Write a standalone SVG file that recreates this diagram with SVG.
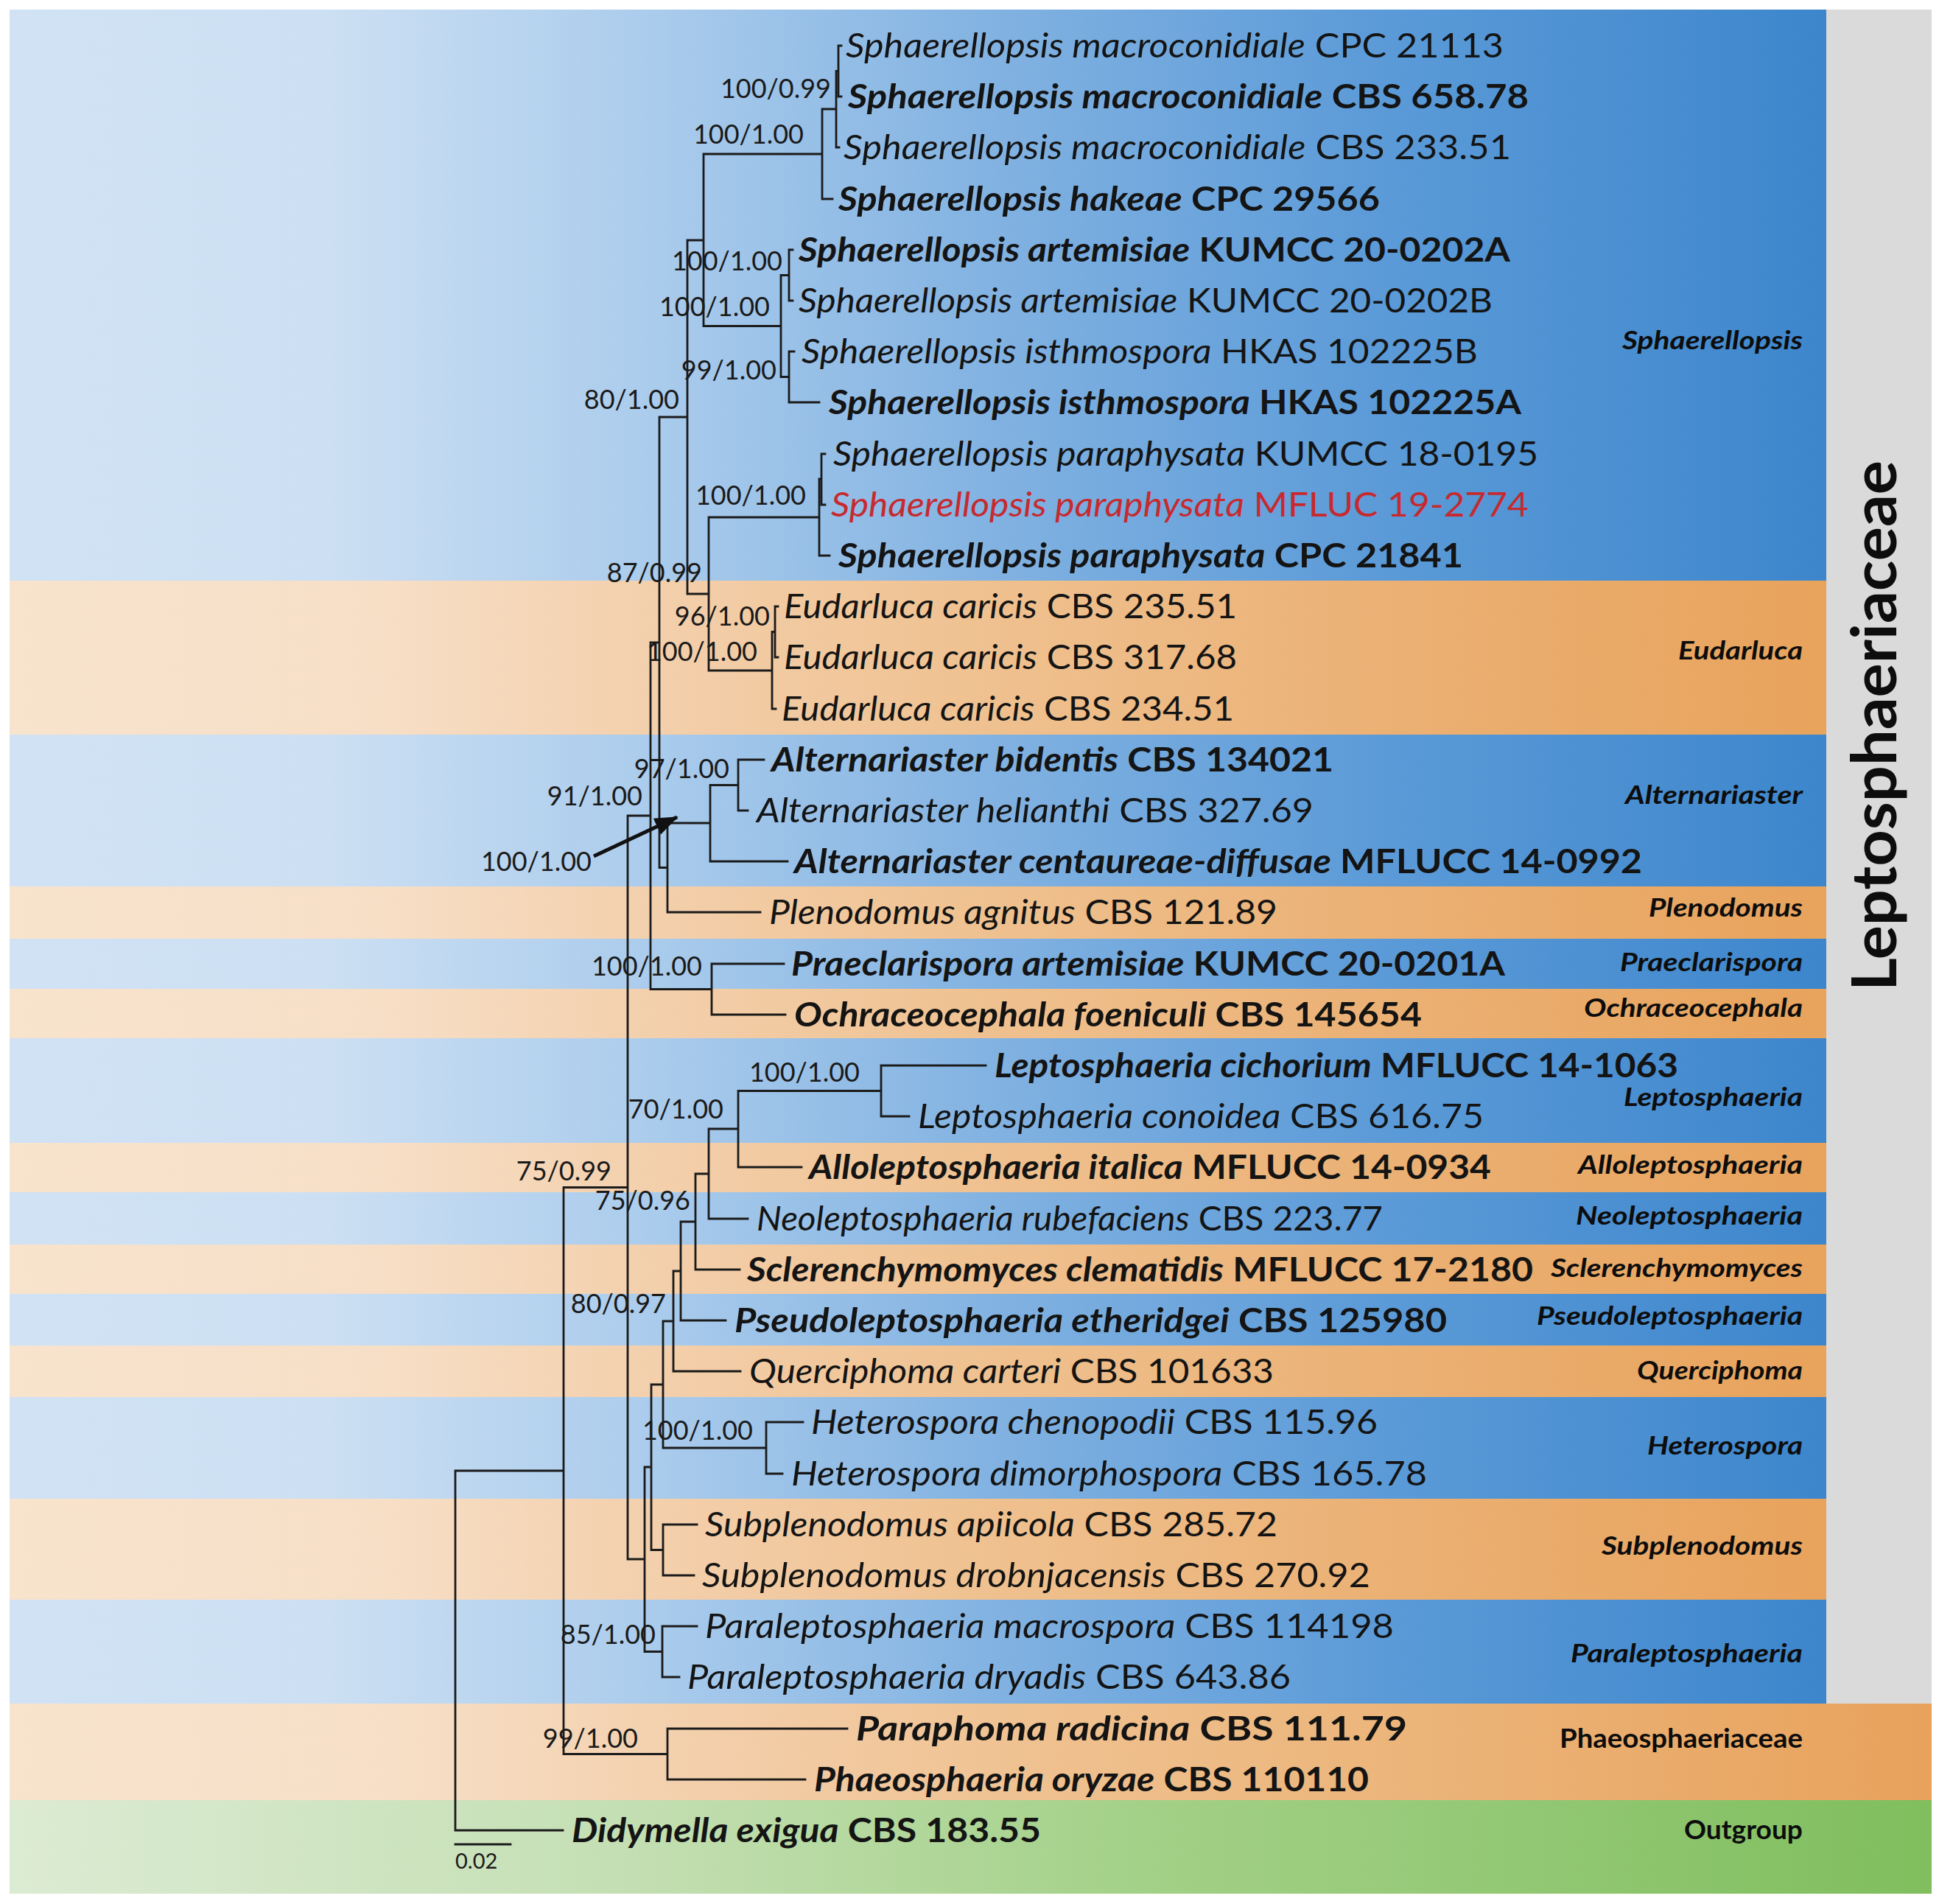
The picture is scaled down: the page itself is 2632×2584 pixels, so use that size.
<svg xmlns="http://www.w3.org/2000/svg" width="2632" height="2584" viewBox="0 0 2632 2584">
<defs>
<linearGradient id="gb" gradientUnits="userSpaceOnUse" x1="13" y1="0" x2="2479" y2="0">
<stop offset="0" stop-color="#d0e2f4"/><stop offset="0.17" stop-color="#cde0f3"/><stop offset="0.36" stop-color="#a9cbec"/><stop offset="0.55" stop-color="#80b1e1"/><stop offset="0.75" stop-color="#5c9bd8"/><stop offset="1" stop-color="#3d86cc"/>
</linearGradient>
<linearGradient id="go" gradientUnits="userSpaceOnUse" x1="13" y1="0" x2="2479" y2="0">
<stop offset="0" stop-color="#f8e3cd"/><stop offset="0.2" stop-color="#f7dfc7"/><stop offset="0.36" stop-color="#f3cfab"/><stop offset="0.55" stop-color="#efc08e"/><stop offset="0.75" stop-color="#ebb175"/><stop offset="1" stop-color="#e8a35c"/>
</linearGradient>
<linearGradient id="go2" gradientUnits="userSpaceOnUse" x1="13" y1="0" x2="2622" y2="0">
<stop offset="0" stop-color="#f8e3cd"/><stop offset="0.2" stop-color="#f7dfc7"/><stop offset="0.36" stop-color="#f3cfab"/><stop offset="0.55" stop-color="#efc08e"/><stop offset="0.75" stop-color="#ebb377"/><stop offset="1" stop-color="#e8a25c"/>
</linearGradient>
<linearGradient id="gg" gradientUnits="userSpaceOnUse" x1="13" y1="0" x2="2622" y2="0">
<stop offset="0" stop-color="#dcebd3"/><stop offset="0.3" stop-color="#c6e0b6"/><stop offset="0.6" stop-color="#a2d086"/><stop offset="1" stop-color="#80be5e"/>
</linearGradient>
<marker id="ah" markerUnits="userSpaceOnUse" markerWidth="34" markerHeight="28" refX="30" refY="14" orient="auto">
<path d="M0,2 L32,14 L0,26 Z" fill="#111"/>
</marker>
</defs>
<style>
.tx{font-family:Lato,"Open Sans","Liberation Sans",sans-serif;font-size:46px;fill:#141414}
.i{font-style:italic}
.b{font-weight:700}
.red{fill:#c62a2f}
.sp{font-family:Lato,"Open Sans","Liberation Sans",sans-serif;font-size:36px;fill:#1a1a1a;text-anchor:end}
.gn{font-family:Lato,"Open Sans","Liberation Sans",sans-serif;font-size:35px;font-weight:700;font-style:italic;fill:#0d0d0d;text-anchor:end}
.fam{font-family:Lato,"Open Sans","Liberation Sans",sans-serif;font-size:36px;font-weight:700;fill:#0d0d0d;text-anchor:end}
.br{fill:none;stroke:#1b1b1b;stroke-width:2.8;stroke-linecap:square}
</style>
<rect x="0" y="0" width="2632" height="2584" fill="#ffffff"/>
<g id="bands">
<rect x="13" y="13" width="2466" height="775" fill="url(#gb)"/>
<rect x="13" y="788" width="2466" height="209" fill="url(#go)"/>
<rect x="13" y="997" width="2466" height="206" fill="url(#gb)"/>
<rect x="13" y="1203" width="2466" height="71" fill="url(#go)"/>
<rect x="13" y="1274" width="2466" height="68" fill="url(#gb)"/>
<rect x="13" y="1342" width="2466" height="67" fill="url(#go)"/>
<rect x="13" y="1409" width="2466" height="142" fill="url(#gb)"/>
<rect x="13" y="1551" width="2466" height="67" fill="url(#go)"/>
<rect x="13" y="1618" width="2466" height="71" fill="url(#gb)"/>
<rect x="13" y="1689" width="2466" height="67" fill="url(#go)"/>
<rect x="13" y="1756" width="2466" height="70" fill="url(#gb)"/>
<rect x="13" y="1826" width="2466" height="70" fill="url(#go)"/>
<rect x="13" y="1896" width="2466" height="138" fill="url(#gb)"/>
<rect x="13" y="2034" width="2466" height="137" fill="url(#go)"/>
<rect x="13" y="2171" width="2466" height="141" fill="url(#gb)"/>
<rect x="2479" y="13" width="143" height="2299" fill="#dadada"/>
<rect x="13" y="2312" width="2609" height="131" fill="url(#go2)"/>
<rect x="13" y="2443" width="2609" height="127" fill="url(#gg)"/>
</g>
<g id="connectors">
<path class="br" d="M618 1996V2484M618 1996H765M618 2484H764
M765 1611.5V2380.5M765 1611.5H852M765 2380.5H906
M906 2346V2415M906 2346H1150M906 2415H1093
M852 1107V2116M852 1107H883M852 2116H875
M875 1991V2241.5M875 1991H884M875 2241.5H899
M899 2207V2276M899 2207H946M899 2276H922
M884 1879V2103.5M884 1879H900M884 2103.5H900
M900 2069V2138M900 2069H946M900 2138H942
M900 1793V1965M900 1793H914M900 1965H1040
M1040 1930V2000M1040 1930H1090M1040 2000H1062
M914 1725V1861M914 1725H924M914 1861H1005
M924 1658V1792M924 1658H944M924 1792H985
M944 1593V1723M944 1593H962M944 1723H1004
M962 1532V1654M962 1532H1002M962 1654H1015
M1002 1480.5V1584M1002 1480.5H1196M1002 1584H1088
M1196 1446V1515M1196 1446H1338M1196 1515H1234
M883 872V1342.5M883 872H895M883 1342.5H966
M966 1308V1377M966 1308H1064M966 1377H1066
M895 566V1177.5M895 566H933M895 1177.5H906
M906 1117V1238M906 1117H964M906 1238H1032
M964 1065.5V1169M964 1065.5H1002M964 1169H1069
M1002 1031V1100M1002 1031H1037M1002 1100H1015
M933 326V806M933 326H955M933 806H962
M962 702V910M962 702H1112M962 910H1048
M1048 857.5V962M1048 857.5H1052M1048 962H1053
M1052 823V892M1052 823H1056M1052 892H1056
M1112 650V754M1112 650H1115M1112 754H1126
M1115 616V685M1115 616H1120M1115 685H1120
M955 209V442.5M955 209H1116M955 442.5H1060
M1116 148V270M1116 148H1135M1116 270H1130
M1135 96.5V200M1135 96.5H1138M1135 200H1139
M1138 62V131M1138 62H1142M1138 131H1142
M1060 373.5V511.5M1060 373.5H1071M1060 511.5H1071
M1071 339V408M1071 339H1076M1071 408H1076
M1071 477V546M1071 477H1078M1071 546H1112"/>
<line x1="806" y1="1162" x2="919" y2="1109" stroke="#111" stroke-width="5" marker-end="url(#ah)"/>
<path class="br" d="M618 2503H693"/>
<text x="618" y="2536" font-family="Lato,'Open Sans',sans-serif" font-size="29" fill="#1a1a1a">0.02</text>
</g>
<g id="supports">
<text class="sp" x="1128" y="133">100/0.99</text>
<text class="sp" x="1091" y="195">100/1.00</text>
<text class="sp" x="1062" y="367">100/1.00</text>
<text class="sp" x="1045" y="429">100/1.00</text>
<text class="sp" x="1054" y="515">99/1.00</text>
<text class="sp" x="922" y="555">80/1.00</text>
<text class="sp" x="1094" y="685">100/1.00</text>
<text class="sp" x="953" y="790">87/0.99</text>
<text class="sp" x="1045" y="849">96/1.00</text>
<text class="sp" x="1028" y="897">100/1.00</text>
<text class="sp" x="990" y="1056">97/1.00</text>
<text class="sp" x="872" y="1093">91/1.00</text>
<text class="sp" x="803" y="1182">100/1.00</text>
<text class="sp" x="953" y="1324">100/1.00</text>
<text class="sp" x="1167" y="1468">100/1.00</text>
<text class="sp" x="982" y="1518">70/1.00</text>
<text class="sp" x="830" y="1602">75/0.99</text>
<text class="sp" x="937" y="1642">75/0.96</text>
<text class="sp" x="904" y="1782">80/0.97</text>
<text class="sp" x="1022" y="1954">100/1.00</text>
<text class="sp" x="890" y="2231">85/1.00</text>
<text class="sp" x="866" y="2372">99/1.00</text>
</g>
<g id="taxa">
<g id="t1"><text class="tx" x="1148" y="78" textLength="893" lengthAdjust="spacingAndGlyphs"><tspan class="i">Sphaerellopsis macroconidiale</tspan> CPC 21113</text></g>
<g id="t2"><text class="tx b" x="1151" y="147" textLength="924" lengthAdjust="spacingAndGlyphs"><tspan class="i">Sphaerellopsis macroconidiale</tspan> CBS 658.78</text></g>
<g id="t3"><text class="tx" x="1145" y="216" textLength="906" lengthAdjust="spacingAndGlyphs"><tspan class="i">Sphaerellopsis macroconidiale</tspan> CBS 233.51</text></g>
<g id="t4"><text class="tx b" x="1138" y="286" textLength="735" lengthAdjust="spacingAndGlyphs"><tspan class="i">Sphaerellopsis hakeae</tspan> CPC 29566</text></g>
<g id="t5"><text class="tx b" x="1084" y="355" textLength="966" lengthAdjust="spacingAndGlyphs"><tspan class="i">Sphaerellopsis artemisiae</tspan> KUMCC 20-0202A</text></g>
<g id="t6"><text class="tx" x="1084" y="424" textLength="942" lengthAdjust="spacingAndGlyphs"><tspan class="i">Sphaerellopsis artemisiae</tspan> KUMCC 20-0202B</text></g>
<g id="t7"><text class="tx" x="1088" y="493" textLength="918" lengthAdjust="spacingAndGlyphs"><tspan class="i">Sphaerellopsis isthmospora</tspan> HKAS 102225B</text></g>
<g id="t8"><text class="tx b" x="1125" y="562" textLength="940" lengthAdjust="spacingAndGlyphs"><tspan class="i">Sphaerellopsis isthmospora</tspan> HKAS 102225A</text></g>
<g id="t9"><text class="tx" x="1131" y="632" textLength="957" lengthAdjust="spacingAndGlyphs"><tspan class="i">Sphaerellopsis paraphysata</tspan> KUMCC 18-0195</text></g>
<g id="t10"><text class="tx red" x="1128" y="701" textLength="947" lengthAdjust="spacingAndGlyphs"><tspan class="i">Sphaerellopsis paraphysata</tspan> MFLUC 19-2774</text></g>
<g id="t11"><text class="tx b" x="1138" y="770" textLength="848" lengthAdjust="spacingAndGlyphs"><tspan class="i">Sphaerellopsis paraphysata</tspan> CPC 21841</text></g>
<g id="t12"><text class="tx" x="1064" y="839" textLength="615" lengthAdjust="spacingAndGlyphs"><tspan class="i">Eudarluca caricis</tspan> CBS 235.51</text></g>
<g id="t13"><text class="tx" x="1064" y="908" textLength="615" lengthAdjust="spacingAndGlyphs"><tspan class="i">Eudarluca caricis</tspan> CBS 317.68</text></g>
<g id="t14"><text class="tx" x="1061" y="978" textLength="614" lengthAdjust="spacingAndGlyphs"><tspan class="i">Eudarluca caricis</tspan> CBS 234.51</text></g>
<g id="t15"><text class="tx b" x="1047" y="1047" textLength="763" lengthAdjust="spacingAndGlyphs"><tspan class="i">Alternariaster bidentis</tspan> CBS 134021</text></g>
<g id="t16"><text class="tx" x="1027" y="1116" textLength="756" lengthAdjust="spacingAndGlyphs"><tspan class="i">Alternariaster helianthi</tspan> CBS 327.69</text></g>
<g id="t17"><text class="tx b" x="1078" y="1185" textLength="1151" lengthAdjust="spacingAndGlyphs"><tspan class="i">Alternariaster centaureae-diffusae</tspan> MFLUCC 14-0992</text></g>
<g id="t18"><text class="tx" x="1044" y="1254" textLength="690" lengthAdjust="spacingAndGlyphs"><tspan class="i">Plenodomus agnitus</tspan> CBS 121.89</text></g>
<g id="t19"><text class="tx b" x="1074" y="1324" textLength="969" lengthAdjust="spacingAndGlyphs"><tspan class="i">Praeclarispora artemisiae</tspan> KUMCC 20-0201A</text></g>
<g id="t20"><text class="tx b" x="1078" y="1393" textLength="852" lengthAdjust="spacingAndGlyphs"><tspan class="i">Ochraceocephala foeniculi</tspan> CBS 145654</text></g>
<g id="t21"><text class="tx b" x="1350" y="1462" textLength="928" lengthAdjust="spacingAndGlyphs"><tspan class="i">Leptosphaeria cichorium</tspan> MFLUCC 14-1063</text></g>
<g id="t22"><text class="tx" x="1246" y="1531" textLength="768" lengthAdjust="spacingAndGlyphs"><tspan class="i">Leptosphaeria conoidea</tspan> CBS 616.75</text></g>
<g id="t23"><text class="tx b" x="1098" y="1600" textLength="926" lengthAdjust="spacingAndGlyphs"><tspan class="i">Alloleptosphaeria italica</tspan> MFLUCC 14-0934</text></g>
<g id="t24"><text class="tx" x="1027" y="1670" textLength="850" lengthAdjust="spacingAndGlyphs"><tspan class="i">Neoleptosphaeria rubefaciens</tspan> CBS 223.77</text></g>
<g id="t25"><text class="tx b" x="1014" y="1739" textLength="1067" lengthAdjust="spacingAndGlyphs"><tspan class="i">Sclerenchymomyces clematidis</tspan> MFLUCC 17-2180</text></g>
<g id="t26"><text class="tx b" x="997" y="1808" textLength="967" lengthAdjust="spacingAndGlyphs"><tspan class="i">Pseudoleptosphaeria etheridgei</tspan> CBS 125980</text></g>
<g id="t27"><text class="tx" x="1017" y="1877" textLength="712" lengthAdjust="spacingAndGlyphs"><tspan class="i">Querciphoma carteri</tspan> CBS 101633</text></g>
<g id="t28"><text class="tx" x="1101" y="1946" textLength="769" lengthAdjust="spacingAndGlyphs"><tspan class="i">Heterospora chenopodii</tspan> CBS 115.96</text></g>
<g id="t29"><text class="tx" x="1074" y="2016" textLength="863" lengthAdjust="spacingAndGlyphs"><tspan class="i">Heterospora dimorphospora</tspan> CBS 165.78</text></g>
<g id="t30"><text class="tx" x="957" y="2085" textLength="777" lengthAdjust="spacingAndGlyphs"><tspan class="i">Subplenodomus apiicola</tspan> CBS 285.72</text></g>
<g id="t31"><text class="tx" x="953" y="2154" textLength="907" lengthAdjust="spacingAndGlyphs"><tspan class="i">Subplenodomus drobnjacensis</tspan> CBS 270.92</text></g>
<g id="t32"><text class="tx" x="957" y="2223" textLength="935" lengthAdjust="spacingAndGlyphs"><tspan class="i">Paraleptosphaeria macrospora</tspan> CBS 114198</text></g>
<g id="t33"><text class="tx" x="933" y="2292" textLength="819" lengthAdjust="spacingAndGlyphs"><tspan class="i">Paraleptosphaeria dryadis</tspan> CBS 643.86</text></g>
<g id="t34"><text class="tx b" x="1162" y="2362" textLength="748" lengthAdjust="spacingAndGlyphs"><tspan class="i">Paraphoma radicina</tspan> CBS 111.79</text></g>
<g id="t35"><text class="tx b" x="1105" y="2431" textLength="753" lengthAdjust="spacingAndGlyphs"><tspan class="i">Phaeosphaeria oryzae</tspan> CBS 110110</text></g>
<g id="t36"><text class="tx b" x="776" y="2500" textLength="637" lengthAdjust="spacingAndGlyphs"><tspan class="i">Didymella exigua</tspan> CBS 183.55</text></g>
</g>
<g id="groups">
<g id="g-sphaerellopsis"><text class="gn" x="2447" y="474" textLength="245" lengthAdjust="spacingAndGlyphs">Sphaerellopsis</text></g>
<g id="g-eudarluca"><text class="gn" x="2447" y="895" textLength="169" lengthAdjust="spacingAndGlyphs">Eudarluca</text></g>
<g id="g-alternariaster"><text class="gn" x="2447" y="1091" textLength="241" lengthAdjust="spacingAndGlyphs">Alternariaster</text></g>
<g id="g-plenodomus"><text class="gn" x="2447" y="1244" textLength="209" lengthAdjust="spacingAndGlyphs">Plenodomus</text></g>
<g id="g-praeclarispora"><text class="gn" x="2447" y="1318" textLength="248" lengthAdjust="spacingAndGlyphs">Praeclarispora</text></g>
<g id="g-ochraceocephala"><text class="gn" x="2447" y="1380" textLength="297" lengthAdjust="spacingAndGlyphs">Ochraceocephala</text></g>
<g id="g-leptosphaeria"><text class="gn" x="2447" y="1501" textLength="243" lengthAdjust="spacingAndGlyphs">Leptosphaeria</text></g>
<g id="g-alloleptosphaeria"><text class="gn" x="2447" y="1593" textLength="305" lengthAdjust="spacingAndGlyphs">Alloleptosphaeria</text></g>
<g id="g-neoleptosphaeria"><text class="gn" x="2447" y="1662" textLength="308" lengthAdjust="spacingAndGlyphs">Neoleptosphaeria</text></g>
<g id="g-sclerenchymomyces"><text class="gn" x="2447" y="1733" textLength="342" lengthAdjust="spacingAndGlyphs">Sclerenchymomyces</text></g>
<g id="g-pseudoleptosphaeria"><text class="gn" x="2447" y="1798" textLength="361" lengthAdjust="spacingAndGlyphs">Pseudoleptosphaeria</text></g>
<g id="g-querciphoma"><text class="gn" x="2447" y="1872" textLength="225" lengthAdjust="spacingAndGlyphs">Querciphoma</text></g>
<g id="g-heterospora"><text class="gn" x="2447" y="1974" textLength="211" lengthAdjust="spacingAndGlyphs">Heterospora</text></g>
<g id="g-subplenodomus"><text class="gn" x="2447" y="2110" textLength="273" lengthAdjust="spacingAndGlyphs">Subplenodomus</text></g>
<g id="g-paraleptosphaeria"><text class="gn" x="2447" y="2256" textLength="315" lengthAdjust="spacingAndGlyphs">Paraleptosphaeria</text></g>
<g id="g-phaeosphaeriaceae"><text class="fam" x="2447" y="2372" textLength="330" lengthAdjust="spacingAndGlyphs">Phaeosphaeriaceae</text></g>
<g id="g-outgroup"><text class="fam" x="2447" y="2496" textLength="161" lengthAdjust="spacingAndGlyphs">Outgroup</text></g>
<g id="g-leptosphaeriaceae"><text transform="translate(2574,985) rotate(-90)" x="0" y="0" text-anchor="middle" font-family="Lato,'Open Sans',sans-serif" font-size="84" font-weight="700" fill="#0d0d0d" textLength="720" lengthAdjust="spacingAndGlyphs">Leptosphaeriaceae</text></g>
</g>
</svg>
